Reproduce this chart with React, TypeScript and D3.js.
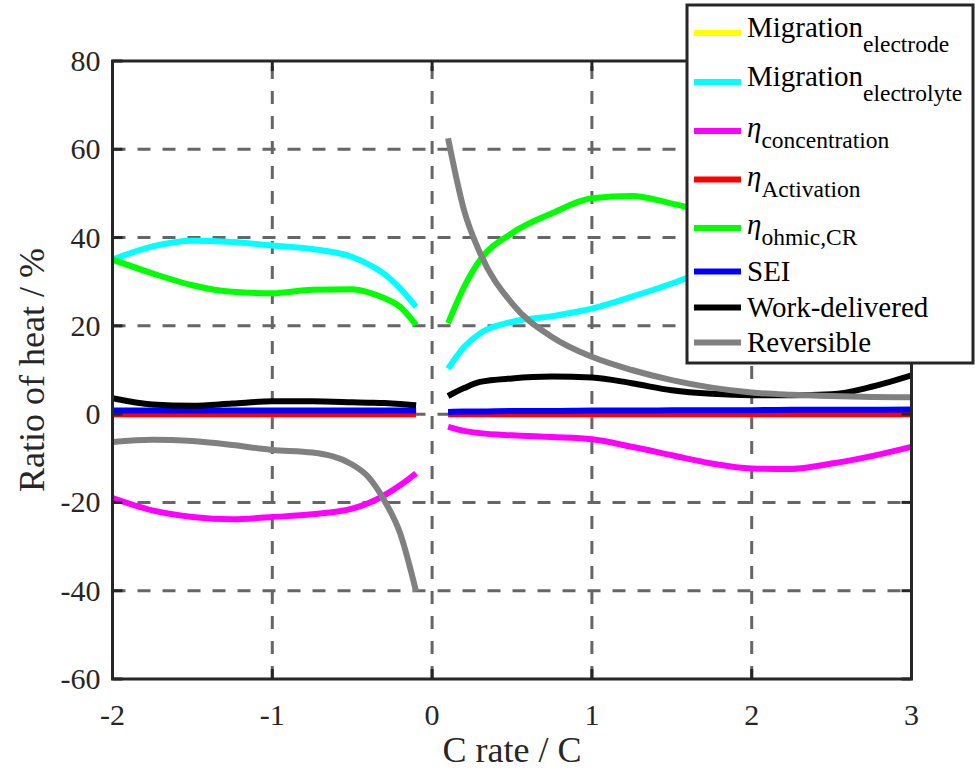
import React from "react";
import * as d3 from "d3";

// C-rate samples for the discharge (negative) and charge (positive) branches
const xNeg = [-2, -1.75, -1.5, -1.25, -1, -0.75, -0.5, -0.4, -0.3, -0.2, -0.1];
const xPos = [0.1, 0.2, 0.3, 0.5, 0.75, 1, 1.25, 1.5, 1.75, 2, 2.25, 2.5, 2.75, 3];

// Heat contribution ratios (%) for each mechanism
const migElectrodeNeg = [0, 0, 0, 0, 0, 0, 0, 0, 0, 0, 0];
const migElectrodePos = [0, 0, 0, 0, 0, 0, 0, 0, 0, 0, 0, 0, 0, 0];
const migElectrolyteNeg = [35, 38, 39.3, 39, 38.2, 37.4, 35.6, 34, 31.8, 28.5, 24.3];
const migElectrolytePos = [10.3, 15.2, 18.3, 20.9, 22.2, 23.9, 26.6, 29.6, 33, 36, 39, 41, 43, 45];
const concNeg = [-19, -21.8, -23.3, -23.8, -23.3, -22.7, -21.4, -20.2, -18.4, -16.1, -13.4];
const concPos = [-2.9, -3.8, -4.3, -4.8, -5.2, -5.7, -7.4, -9.3, -11.2, -12.3, -12.4, -11.2, -9.5, -7.4];
const activationNeg = [0, 0, 0, 0, 0, 0, 0, 0, 0, 0, 0];
const activationPos = [0, 0, 0, 0, 0, 0, 0, 0, 0, 0, 0, 0, 0, 0];
const ohmicNeg = [35, 31.9, 29.2, 27.7, 27.4, 28.2, 28.3, 27.6, 26.3, 24.3, 20.2];
const ohmicPos = [20.6, 28.8, 34.9, 41, 45.5, 48.9, 49.4, 47.7, 45.5, 43, 41, 40, 40, 41];
const seiNeg = [0.8, 0.8, 0.8, 0.8, 0.8, 0.8, 0.8, 0.8, 0.8, 0.8, 0.8];
const seiPos = [0.5, 0.6, 0.6, 0.7, 0.7, 0.8, 0.8, 0.9, 0.9, 0.9, 1, 1, 1, 1.05];
const workNeg = [3.6, 2.2, 1.9, 2.4, 2.9, 2.9, 2.7, 2.6, 2.5, 2.3, 2.0];
const workPos = [4.1, 5.9, 7.3, 8.1, 8.5, 8.3, 7, 5.4, 4.6, 4.3, 4.3, 4.5, 6.2, 8.8];
const reversibleNeg = [-6.3, -5.8, -6.1, -7.0, -8.1, -8.7, -11.4, -14.2, -19.5, -27, -40.2];
const reversiblePos = [62.5, 46.2, 36.5, 25.1, 17.5, 13, 10, 7.7, 6, 4.9, 4.4, 4.1, 3.9, 3.8];

const xTicks = [-2, -1, 0, 1, 2, 3];
const yTicks = [-60, -40, -20, 0, 20, 40, 60, 80];

type Series = {
  key: string;
  main: string;
  sub?: string;
  eta?: boolean;
  color: string;
  neg: number[];
  pos: number[];
};

const series: Series[] = [
  { key: "me", main: "Migration", sub: "electrode", color: "#ffff00", neg: migElectrodeNeg, pos: migElectrodePos },
  { key: "ml", main: "Migration", sub: "electrolyte", color: "#00ffff", neg: migElectrolyteNeg, pos: migElectrolytePos },
  { key: "co", main: "η", sub: "concentration", eta: true, color: "#ff00ff", neg: concNeg, pos: concPos },
  { key: "ac", main: "η", sub: "Activation", eta: true, color: "#ff0000", neg: activationNeg, pos: activationPos },
  { key: "oh", main: "η", sub: "ohmic,CR", eta: true, color: "#00ff00", neg: ohmicNeg, pos: ohmicPos },
  { key: "se", main: "SEI", color: "#0000ff", neg: seiNeg, pos: seiPos },
  { key: "wd", main: "Work-delivered", color: "#000000", neg: workNeg, pos: workPos },
  { key: "rv", main: "Reversible", color: "#808080", neg: reversibleNeg, pos: reversiblePos },
];

const W = 975;
const H = 770;
const plot = { left: 112.5, right: 911.5, top: 61, bottom: 679 };
const SERIF = { fontFamily: "'Liberation Serif'" };
const AXIS = "#262626";

export default function App() {
  const x = d3.scaleLinear().domain([-2, 3]).range([plot.left, plot.right]);
  const y = d3.scaleLinear().domain([-60, 80]).range([plot.bottom, plot.top]);

  const line = d3
    .line<[number, number]>()
    .x((d) => x(d[0]))
    .y((d) => y(d[1]))
    .curve(d3.curveMonotoneX);

  const tickLen = 10;

  // legend layout
  const lg = { x: 687, y: 5, w: 286, h: 358 };
  const rowY = [33, 82, 131, 179.5, 228, 271.5, 307.5, 342.5];

  return (
    <svg width={W} height={H} style={{ position: "absolute", left: 0, top: 0 }}>
      <style>{`svg text, svg tspan { font-family: 'Liberation Serif', 'Times New Roman', serif !important; }`}</style>
      <rect x={0} y={0} width={W} height={H} fill="#fff" />
      <clipPath id="plot-clip">
        <rect x={plot.left} y={plot.top} width={plot.right - plot.left} height={plot.bottom - plot.top} />
      </clipPath>

      {/* grid */}
      <g stroke="#666666" strokeWidth={3} strokeDasharray="13,12" fill="none">
        {xTicks.slice(1, -1).map((t) => (
          <line key={`gx${t}`} x1={x(t)} x2={x(t)} y1={plot.bottom} y2={plot.top} />
        ))}
        {yTicks.slice(1, -1).map((t) => (
          <line key={`gy${t}`} x1={plot.left} x2={plot.right} y1={y(t)} y2={y(t)} />
        ))}
      </g>

      {/* data */}
      <g clipPath="url(#plot-clip)" fill="none" strokeWidth={6} strokeLinejoin="round">
        {series.map((s) => (
          <g key={s.key} stroke={s.color}>
            <path d={line(xNeg.map((v, i) => [v, s.neg[i]] as [number, number])) || ""} />
            <path d={line(xPos.map((v, i) => [v, s.pos[i]] as [number, number])) || ""} />
          </g>
        ))}
      </g>

      {/* axes box and ticks */}
      <g stroke={AXIS} strokeWidth={3} fill="none">
        <rect x={plot.left} y={plot.top} width={plot.right - plot.left} height={plot.bottom - plot.top} />
        {xTicks.map((t) => (
          <g key={`tx${t}`}>
            <line x1={x(t)} x2={x(t)} y1={plot.bottom} y2={plot.bottom - tickLen} />
            <line x1={x(t)} x2={x(t)} y1={plot.top} y2={plot.top + tickLen} />
          </g>
        ))}
        {yTicks.map((t) => (
          <g key={`ty${t}`}>
            <line x1={plot.left} x2={plot.left + tickLen} y1={y(t)} y2={y(t)} />
            <line x1={plot.right} x2={plot.right - tickLen} y1={y(t)} y2={y(t)} />
          </g>
        ))}
      </g>

      {/* tick labels */}
      {yTicks.map((t) => (
        <text key={`ly${t}`} x={plot.left - 12} y={y(t) + 10} textAnchor="end" fontSize={30} fill="#262626" style={SERIF}>
          {String(t)}
        </text>
      ))}
      {xTicks.map((t) => (
        <text key={`lx${t}`} x={x(t)} y={plot.bottom + 46} textAnchor="middle" fontSize={30} fill="#262626" style={SERIF}>
          {String(t)}
        </text>
      ))}

      {/* axis titles */}
      <text x={(plot.left + plot.right) / 2} y={762} textAnchor="middle" fontSize={36} fill="#262626" style={SERIF}>
        C rate / C
      </text>
      <text
        transform={`translate(44, ${(plot.top + plot.bottom) / 2}) rotate(-90)`}
        textAnchor="middle"
        fontSize={36}
        fill="#262626"
        style={SERIF}
      >
        Ratio of heat / %
      </text>

      {/* legend */}
      <g>
        <rect x={lg.x} y={lg.y} width={lg.w} height={lg.h} fill="#fff" stroke={AXIS} strokeWidth={3} />
        {series.map((s, i) => {
          const ly = rowY[i];
          const baseDy = s.sub ? (s.eta ? 6 : 4) : 9;
          const subDy = s.eta ? 11 : 15;
          return (
            <g key={`lg${s.key}`}>
              <line x1={694} x2={741} y1={ly} y2={ly} stroke={s.color} strokeWidth={6} />
              <text x={747} y={ly + baseDy} fontSize={29} fill="#000" style={SERIF}>
                <tspan fontStyle={s.eta ? "italic" : "normal"}>{s.main}</tspan>
                {s.sub && (
                  <tspan dy={subDy} fontSize={23.5}>
                    {s.sub}
                  </tspan>
                )}
              </text>
            </g>
          );
        })}
      </g>
    </svg>
  );
}
